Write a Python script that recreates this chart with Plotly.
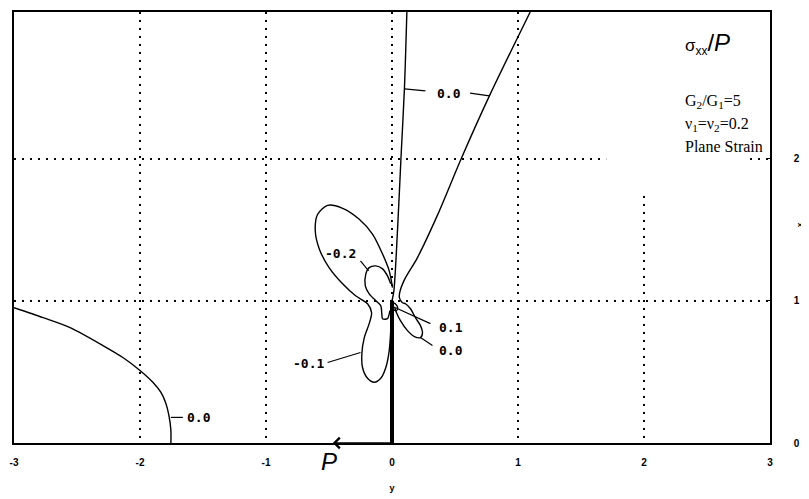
import plotly.graph_objects as go

# ---------------- data (horizontal coordinate = y, vertical coordinate = x) -------------
y_tick_vals = [-3, -2, -1, 0, 1, 2, 3]
x_tick_vals = [0, 1, 2]

# 0.0 contour, far left
c00a_y = [-3.0, -2.769, -2.555, -2.294, -2.136, -2.0, -1.898, -1.835, -1.795, -1.771, -1.755, -1.755]
c00a_x = [0.951, 0.881, 0.811, 0.685, 0.601, 0.51, 0.427, 0.357, 0.280, 0.196, 0.091, 0.0]

# 0.0 contour, near-vertical line above the load
c00b_y = [0.0, 0.015, 0.044, 0.071, 0.099, 0.118]
c00b_x = [1.0, 1.07, 1.5, 2.0, 2.5, 3.03]

# 0.0 contour, inclined line + small lobe right of the load
c00c_y = [1.097, 0.773, 0.55, 0.36, 0.20, 0.10, 0.062, 0.059, 0.083, 0.107, 0.147, 0.186,
          0.226, 0.242, 0.226, 0.178, 0.123, 0.067, 0.036, 0.02]
c00c_x = [3.03, 2.44, 2.0, 1.6, 1.3, 1.15, 1.06, 1.02, 0.986, 0.979, 0.944, 0.881,
          0.825, 0.776, 0.741, 0.748, 0.79, 0.86, 0.916, 0.958]

# -0.1 contour (two lobes left of the load)
cm01_y = [0.004, -0.022, -0.075, -0.155, -0.26, -0.392, -0.511, -0.59, -0.609, -0.577,
          -0.498, -0.392, -0.289, -0.194, -0.162, -0.181, -0.22, -0.239, -0.234, -0.194,
          -0.141, -0.089, -0.049, -0.022, -0.01, -0.004]
cm01_x = [1.093, 1.21, 1.329, 1.469, 1.573, 1.65, 1.671, 1.608, 1.49, 1.364,
          1.231, 1.119, 1.035, 0.979, 0.916, 0.839, 0.741, 0.629, 0.531, 0.455,
          0.427, 0.455, 0.531, 0.65, 0.79, 0.93]

# -0.2 contour
cm02_y = [-0.01, -0.036, -0.075, -0.128, -0.181, -0.208, -0.212, -0.181, -0.128, -0.089,
          -0.081, -0.075, -0.036, -0.017]
cm02_x = [1.119, 1.175, 1.224, 1.245, 1.233, 1.187, 1.105, 1.049, 1.0, 0.965,
          0.909, 0.874, 0.874, 0.93]

# 0.1 contour (tiny, at the load tip)
c01_y = [0.005, 0.03, 0.045, 0.035, 0.01, 0.005]
c01_x = [0.985, 0.975, 0.95, 0.93, 0.94, 0.985]

# load segment
load_y = [0.0, 0.0]
load_x = [0.0, 1.0]
P_head_y, P_tail_y = -0.47, 0.0

# contour labels: (text, y, x) and leader lines
labels = [
    ("0.0", -1.53, 0.18),
    ("0.0", 0.455, 2.46),
    ("-0.2", -0.41, 1.33),
    ("-0.1", -0.66, 0.56),
    ("0.1", 0.47, 0.81),
    ("0.0", 0.47, 0.65),
]
leaders = [
    ([-1.755, -1.66], [0.18, 0.18]),
    ([0.099, 0.265], [2.49, 2.475]),
    ([0.62, 0.773], [2.46, 2.44]),
    ([-0.25, -0.186], [1.28, 1.21]),
    ([-0.511, -0.25], [0.566, 0.636]),
    ([0.028, 0.305], [0.951, 0.839]),
    ([0.226, 0.321], [0.741, 0.685]),
]

# ---------------- figure ----------------
fig = go.Figure()
line = dict(color="black", width=1.4)

for yy, xx in [(c00a_y, c00a_x), (c00b_y, c00b_x), (c00c_y, c00c_x),
               (cm01_y, cm01_x), (cm02_y, cm02_x), (c01_y, c01_x)]:
    fig.add_trace(go.Scatter(x=yy, y=xx, mode="lines", line=dict(line, shape="spline", smoothing=0.8),
                             showlegend=False, hoverinfo="skip"))

for yy, xx in leaders:
    fig.add_trace(go.Scatter(x=yy, y=xx, mode="lines", line=dict(color="black", width=1.2),
                             showlegend=False, hoverinfo="skip"))

fig.add_trace(go.Scatter(x=load_y, y=load_x, mode="lines", line=dict(color="black", width=4),
                         showlegend=False, hoverinfo="skip"))

for txt, yy, xx in labels:
    fig.add_annotation(x=yy, y=xx, text=txt, showarrow=False,
                       font=dict(family="DejaVu Sans Mono", size=13, color="black", weight="bold"))

# load arrow P
fig.add_annotation(x=P_head_y, y=0, ax=P_tail_y, ay=0, axref="x", ayref="y",
                   showarrow=True, arrowhead=4, arrowsize=1.3, arrowwidth=1.6,
                   arrowcolor="black", text="")
fig.add_annotation(x=-0.5, y=-0.044, yref="paper", yanchor="middle", text="<i>P</i>", showarrow=False,
                   font=dict(family="Liberation Sans", size=24, color="black"))

# white box behind the legend text
fig.add_shape(type="rect", xref="x", yref="y", x0=1.7, x1=2.8, y0=1.77, y1=3.03,
              fillcolor="white", line=dict(width=0), layer="between")

serif = "Liberation Serif"
fig.add_annotation(x=2.31, y=2.81, xanchor="left", showarrow=False,
                   text="<span style='font-size:17px'>σ<sub>xx</sub></span>/<i>P</i>",
                   font=dict(family="Liberation Sans", size=24, color="black"))
fig.add_annotation(x=2.31, y=2.40, xanchor="left", showarrow=False,
                   text="G<sub>2</sub>/G<sub>1</sub>=5", font=dict(family=serif, size=16, color="black"))
fig.add_annotation(x=2.31, y=2.24, xanchor="left", showarrow=False,
                   text="ν<sub>1</sub>=ν<sub>2</sub>=0.2", font=dict(family=serif, size=16, color="black"))
fig.add_annotation(x=2.31, y=2.085, xanchor="left", showarrow=False,
                   text="Plane Strain", font=dict(family=serif, size=16, color="black"))

# right-hand axis title "x"
fig.add_annotation(xref="paper", yref="paper", x=1, y=0.505, xanchor="left", xshift=24,
                   text="x", showarrow=False, textangle=90,
                   font=dict(family="Liberation Sans", size=8, color="black", weight="bold"))

tickfont = dict(family="Liberation Sans", size=10, color="black", weight="bold")
fig.update_xaxes(range=[-3, 3], tickvals=y_tick_vals, ticktext=[str(v) for v in y_tick_vals],
                 showgrid=True, gridcolor="black", griddash="2px,6px", gridwidth=2,
                 zeroline=False, showline=True, linecolor="black", linewidth=1.5, mirror=True,
                 ticks="", tickfont=tickfont, ticklabelstandoff=9, automargin=False,
                 title=dict(text="y", font=dict(family="Liberation Sans", size=9, color="black", weight="bold"),
                            standoff=18))
fig.update_yaxes(range=[0, 3.03], tickvals=x_tick_vals, ticktext=[str(v) for v in x_tick_vals],
                 side="right", showgrid=True, gridcolor="black", griddash="2px,6px", gridwidth=2,
                 zeroline=False, showline=True, linecolor="black", linewidth=1.5, mirror=True,
                 ticks="inside", ticklen=4, tickcolor="black", tickfont=tickfont, ticklabelstandoff=20,
                 automargin=False)

# page body adds a small offset, so the figure is slightly smaller than the window
fig.update_layout(width=801, height=491, margin=dict(l=6, r=39, t=4, b=56),
                  plot_bgcolor="white", paper_bgcolor="white")

fig.write_html("out.html")
